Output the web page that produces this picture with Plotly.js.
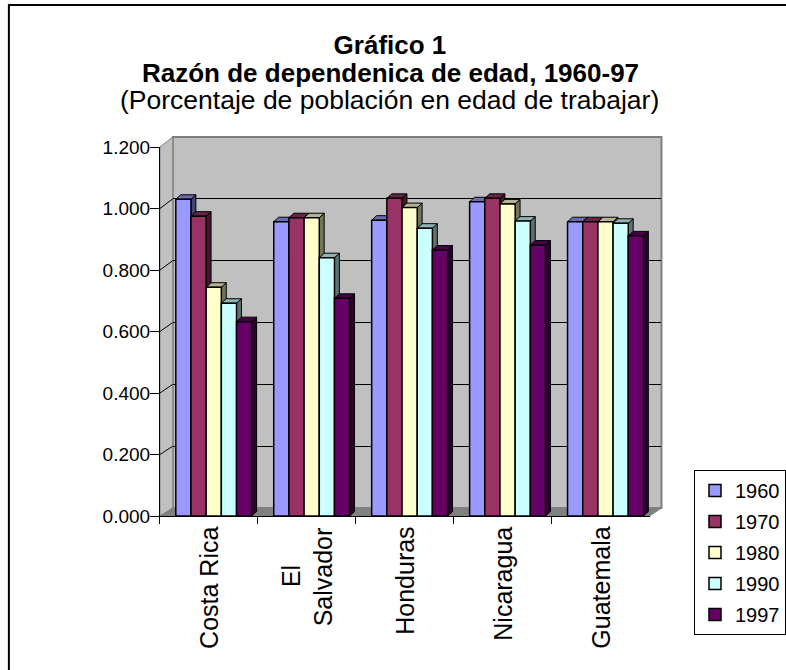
<!DOCTYPE html>
<html>
<head>
<meta charset="utf-8">
<script src="https://cdn.plot.ly/plotly-3.0.1.min.js"></script>
<style>html,body{margin:0;padding:0;background:#fff;}#chart{width:786px;height:670px;}</style>
</head>
<body>
<div id="chart"></div>
<script>
// ---- data ----
const categories = ['Costa Rica', 'El Salvador', 'Honduras', 'Nicaragua', 'Guatemala'];
const tickLabels = ['Costa Rica', 'El<br>Salvador', 'Honduras', 'Nicaragua', 'Guatemala'];
const years = ['1960', '1970', '1980', '1990', '1997'];
const v1960 = [1.030, 0.957, 0.962, 1.022, 0.957];
const v1970 = [0.975, 0.970, 1.033, 1.033, 0.957];
const v1980 = [0.744, 0.970, 1.003, 1.015, 0.957];
const v1990 = [0.692, 0.840, 0.936, 0.959, 0.952];
const v1997 = [0.632, 0.708, 0.865, 0.881, 0.911];
const yTicks = [0, 0.2, 0.4, 0.6, 0.8, 1.0, 1.2];
const titleLines = ['Gráfico 1', 'Razón de dependenica de edad, 1960-97', '(Porcentaje de población en edad de trabajar)'];

// ---- styling ----
const series = [v1960, v1970, v1980, v1990, v1997];
const colors = ['#9999FF', '#993366', '#FFFFCC', '#CCFFFF', '#660066'];
const W = 786, H = 670;
const X = px => px / W;
const Y = py => 1 - py / H;
const FONT = 'Arial, "Liberation Sans", sans-serif';
const XLAB_SIZE = 25;

function shade(hex, f) {
  const n = parseInt(hex.slice(1), 16);
  const r = Math.round(((n >> 16) & 255) * f), g = Math.round(((n >> 8) & 255) * f), b = Math.round((n & 255) * f);
  return 'rgb(' + r + ',' + g + ',' + b + ')';
}
const ctx = document.createElement('canvas').getContext('2d');
ctx.font = XLAB_SIZE + 'px "Liberation Sans", Arial, sans-serif';
const textWidth = s => {
  const w = ctx.measureText(s).width;
  return (isFinite(w) && w > 0) ? w : s.length * XLAB_SIZE * 0.5;
};

// front plane (pixels)
const fL = 162, fR = 658, fT = 147, fB = 516;
// back wall (pixels)
const bL = 175, bR = 670, bT = 137, bB = 508;

const barW = 0.155;
const groupStart = -0.338;
const dx = 0.05, dy = 0.0146;

const traces = [];
// dummy trace for back wall subplot
traces.push({x: [0], y: [null], xaxis: 'x', yaxis: 'y', type: 'scatter', mode: 'markers', showlegend: false, hoverinfo: 'skip'});

const shapes = [];
// outer border
shapes.push({type: 'rect', xref: 'paper', yref: 'paper', x0: X(9), x1: 1.05, y0: -0.05, y1: Y(5), line: {color: '#000', width: 2}, fillcolor: 'rgba(0,0,0,0)', layer: 'below'});
// back wall
shapes.push({type: 'rect', xref: 'paper', yref: 'paper', x0: X(bL), x1: X(bR), y0: Y(bB), y1: Y(bT), line: {color: '#808080', width: 2}, fillcolor: '#C0C0C0', layer: 'below'});
// left wall
shapes.push({type: 'path', xref: 'paper', yref: 'paper', path: 'M' + X(fL) + ',' + Y(fB) + ' L' + X(bL) + ',' + Y(bB) + ' L' + X(bL) + ',' + Y(bT) + ' L' + X(fL) + ',' + Y(fT) + ' Z', line: {color: '#808080', width: 1}, fillcolor: '#C0C0C0', layer: 'below'});
// floor
shapes.push({type: 'path', xref: 'paper', yref: 'paper', path: 'M' + X(fL) + ',' + Y(fB) + ' L' + X(fR) + ',' + Y(fB) + ' L' + X(bR) + ',' + Y(bB) + ' L' + X(bL) + ',' + Y(bB) + ' Z', line: {color: '#808080', width: 1}, fillcolor: '#808080', layer: 'below'});
// left wall diagonals
yTicks.slice(1, -1).forEach(v => {
  const yf = fB - (fB - fT) * v / 1.2, yb = bB - (bB - bT) * v / 1.2;
  shapes.push({type: 'line', xref: 'paper', yref: 'paper', x0: X(fL), y0: Y(yf), x1: X(bL), y1: Y(yb), line: {color: '#000', width: 1}, layer: 'below'});
});

series.forEach((vals, i) => {
  const off = groupStart + i * barW;
  traces.push({
    type: 'bar', name: years[i], x: categories, y: vals, xaxis: 'x2', yaxis: 'y2',
    width: barW, offset: off, legendgroup: years[i],
    marker: {color: colors[i], line: {color: '#000', width: 1.5}},
    hoverinfo: 'x+y+name'
  });
  vals.forEach((v, j) => {
    const xl = j + off, xr = xl + barW;
    shapes.push({type: 'path', xref: 'x2', yref: 'y2', layer: 'below',
      path: 'M' + xr + ',0 L' + xr + ',' + v + ' L' + (xr + dx) + ',' + (v + dy) + ' L' + (xr + dx) + ',' + dy + ' Z',
      fillcolor: shade(colors[i], 0.45), line: {color: '#000', width: 1}});
    shapes.push({type: 'path', xref: 'x2', yref: 'y2', layer: 'below',
      path: 'M' + xl + ',' + v + ' L' + (xl + dx) + ',' + (v + dy) + ' L' + (xr + dx) + ',' + (v + dy) + ' L' + xr + ',' + v + ' Z',
      fillcolor: shade(colors[i], 0.7), line: {color: '#000', width: 1}});
  });
});

const TITLE_SIZE = 26;
const annotations = [
  {text: '<b>' + titleLines[1] + '</b>', xref: 'paper', yref: 'paper', x: X(396), y: Y(72.5), xanchor: 'center', yanchor: 'middle',
   showarrow: false, font: {family: FONT, size: TITLE_SIZE, color: '#000'}},
  {text: titleLines[2], xref: 'paper', yref: 'paper', x: X(395), y: Y(100), xanchor: 'center', yanchor: 'middle',
   showarrow: false, font: {family: FONT, size: 26.5, color: '#000'}}
];
// category labels: rotated, the lines of a label centred on one another
const LABEL_TOP = 526, LINE_GAP = 32;
categories.forEach((c, j) => {
  const lines = tickLabels[j].split('<br>');
  const widths = lines.map(s => textWidth(s));
  const maxW = Math.max.apply(null, widths);
  lines.forEach((ln, k) => {
    annotations.push({text: ln, xref: 'x2', yref: 'paper', x: c, y: Y(LABEL_TOP),
      xanchor: 'center', yanchor: 'top',
      xshift: (k - (lines.length - 1) / 2) * LINE_GAP,
      yshift: -(maxW - widths[k]) / 2,
      textangle: -90, showarrow: false, borderpad: 0,
      font: {family: FONT, size: XLAB_SIZE, color: '#000'}});
  });
});

const layout = {
  width: W, height: H,
  margin: {l: 0, r: 0, t: 0, b: 0},
  paper_bgcolor: '#fff', plot_bgcolor: 'rgba(0,0,0,0)',
  font: {family: FONT, color: '#000'},
  title: {
    text: '<b>' + titleLines[0] + '</b>',
    font: {family: FONT, size: TITLE_SIZE, color: '#000'},
    x: X(395), xref: 'paper', xanchor: 'center', y: Y(45), yref: 'paper', yanchor: 'middle'
  },
  annotations: annotations,
  barmode: 'overlay',
  showlegend: true,
  legend: {
    x: X(703), y: Y(470), xanchor: 'left', yanchor: 'top',
    bgcolor: '#fff', bordercolor: '#000', borderwidth: 1,
    font: {family: FONT, size: 20, color: '#000'},
    traceorder: 'grouped', tracegroupgap: 2
  },
  xaxis: {domain: [X(bL), X(bR)], anchor: 'y', range: [0, 1], visible: false, fixedrange: true},
  yaxis: {domain: [Y(bB), Y(bT)], anchor: 'x', range: [0, 1.2], tickvals: yTicks.slice(1, -1),
    showgrid: true, gridcolor: '#000', gridwidth: 1, zeroline: false, showticklabels: false, ticks: '', showline: false},
  xaxis2: {domain: [X(fL), X(fR)], anchor: 'y2', type: 'category', range: [-0.5, 4.5],
    tickmode: 'array', tickvals: categories, showticklabels: false,
    tickson: 'boundaries', ticks: 'outside', ticklen: 7, tickcolor: '#000', tickwidth: 1,
    showline: true, linecolor: '#000', linewidth: 1, showgrid: false, zeroline: false},
  yaxis2: {domain: [Y(fB), Y(fT)], anchor: 'x2', range: [0, 1.2], tickvals: yTicks, tickformat: '.3f',
    ticks: 'outside', ticklen: 9, ticklabelstandoff: -4, tickcolor: '#000', tickwidth: 1,
    showline: true, linecolor: '#000', linewidth: 1, showgrid: false, zeroline: false,
    tickfont: {family: FONT, size: 19, color: '#000'}},
  shapes: shapes
};

Plotly.newPlot('chart', traces, layout, {displayModeBar: false, staticPlot: true});
</script>
</body>
</html>
